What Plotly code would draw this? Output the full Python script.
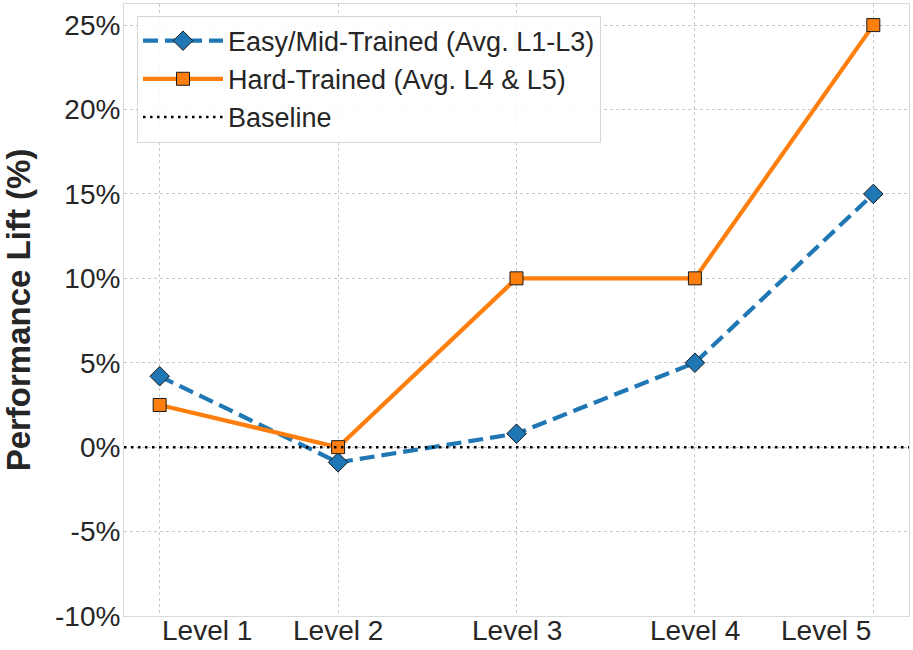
import plotly.graph_objects as go

levels = ["Level 1", "Level 2", "Level 3", "Level 4", "Level 5"]
easy_mid = [4.2, -0.9, 0.8, 5.0, 15.0]
hard = [2.5, 0.0, 10.0, 10.0, 25.0]
baseline = [0, 0]
x_span = [-0.2, 4.2]
y_ticks = [-10, -5, 0, 5, 10, 15, 20, 25]
y_tick_text = [f"{v}%" for v in y_ticks]

FONT = "Liberation Sans, Arial, sans-serif"
TXT = "#262626"
x_idx = list(range(len(levels)))

fig = go.Figure()
fig.add_trace(go.Scatter(
    x=x_idx, y=easy_mid, mode="lines+markers",
    name="Easy/Mid-Trained (Avg. L1-L3)",
    line=dict(color="#1f77b4", width=4.2, dash="15px,7px"),
    marker=dict(symbol="diamond", size=15, color="#1f77b4",
                line=dict(color="#1a1a1a", width=1)),
))
fig.add_trace(go.Scatter(
    x=x_idx, y=hard, mode="lines+markers",
    name="Hard-Trained (Avg. L4 & L5)",
    line=dict(color="#ff7f0e", width=4.2),
    marker=dict(symbol="square", size=13, color="#ff7f0e",
                line=dict(color="#1a1a1a", width=1)),
))
fig.add_trace(go.Scatter(
    x=x_span, y=baseline, mode="lines",
    name="Baseline",
    line=dict(color="black", width=2.5, dash="2.5px,4.5px"),
))

# x tick labels (edge labels kept inside the axes, as in the reference)
for i, lab in enumerate(levels):
    if i == 0:
        anchor = "left"
    elif i == len(levels) - 1:
        anchor = "right"
    else:
        anchor = "center"
    fig.add_annotation(x=i, y=0, xref="x", yref="paper", text=lab,
                       showarrow=False, xanchor=anchor, yanchor="top",
                       yshift=3, font=dict(family=FONT, size=28, color=TXT))

fig.update_layout(
    width=913, height=650,
    margin=dict(l=124, r=4, t=4, b=34),
    paper_bgcolor="white", plot_bgcolor="white",
    font=dict(family=FONT, size=27, color=TXT),
    showlegend=True,
    legend=dict(
        x=0.0166, y=0.981, xanchor="left", yanchor="top",
        bgcolor="rgba(255,255,255,0.85)", bordercolor="#d6d6d6", borderwidth=1,
        font=dict(family=FONT, size=27, color=TXT),
        traceorder="normal", itemwidth=80, tracegroupgap=0,
    ),
)
fig.update_xaxes(
    range=x_span, tickvals=x_idx, showticklabels=False,
    showgrid=True, gridcolor="#c8c8c8", griddash="dot", gridwidth=1,
    showline=True, linecolor="#d9d9d9", linewidth=1, mirror=True,
    zeroline=False, ticks="", automargin=False,
)
fig.update_yaxes(
    range=[-10, 26.25], tickvals=y_ticks, ticktext=y_tick_text,
    tickfont=dict(family=FONT, size=28, color=TXT),
    ticklabelstandoff=-3,
    showgrid=True, gridcolor="#c8c8c8", griddash="dot", gridwidth=1,
    showline=True, linecolor="#d9d9d9", linewidth=1, mirror=True,
    zeroline=False, ticks="", automargin=False,
    title=dict(text="<b>Performance Lift (%)</b>", standoff=16,
               font=dict(family=FONT, size=33, color=TXT)),
)

fig.write_html("out.html", config={"displayModeBar": False},
               post_script="document.body.style.margin='0';")
